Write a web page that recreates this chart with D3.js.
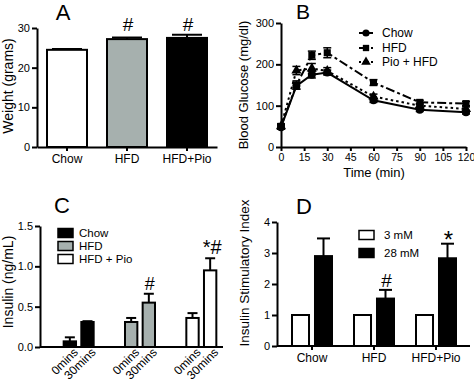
<!DOCTYPE html>
<html><head><meta charset="utf-8">
<script src="https://cdn.jsdelivr.net/npm/d3@7"></script>
<style>body{margin:0;background:#fff}svg{display:block}text{font-family:"Liberation Sans",Arial,sans-serif;fill:#000}</style>
</head><body>
<svg id="c" width="474" height="383"></svg>
<script>
// Panel A data
const aCats = ["Chow","HFD","HFD+Pio"];
const aVals = [24.5, 27.2, 27.5];
const aErr = [0.2, 0.4, 0.8];
const aColors = ["#ffffff","#a6b0ae","#000000"];
const aTicks = [0,10,20,30];
// Panel B data
const bTimes = [0,10,20,30,60,90,120];
const bChow = [48,148,175,180,113,90,84];
const bHFD = [50,150,222,228,156,108,105];
const bPio = [50,185,190,184,122,100,92];
const bChowErr = [5,8,8,6,5,4,4];
const bHFDErr = [6,10,10,12,7,5,5];
const bPioErr = [5,10,12,8,6,5,5];
const bSeries = ["Chow","HFD","Pio + HFD"];
const bXTicks = [0,15,30,45,60,75,90,105,120];
const bYTicks = [0,100,200,300];
// Panel C data
const cGroups = ["Chow","HFD","HFD + Pio"];
const cTimes = ["0mins","30mins"];
const c0 = [0.07,0.31,0.36];
const c30 = [0.31,0.55,0.95];
const c0Err = [0.05,0.05,0.06];
const c30Err = [0.01,0.11,0.15];
const cColors = ["#000000","#a6b0ae","#ffffff"];
const cYTicks = [0,0.5,1.0,1.5];
// Panel D data
const dCats = ["Chow","HFD","HFD+Pio"];
const dConds = ["3 mM","28 mM"];
const d3mM = [1,1,1];
const d28mM = [2.9,1.53,2.83];
const d28Err = [0.57,0.28,0.47];
const dYTicks = [0,1,2,3,4];

const svg = d3.select("#c");
const SW = 2;

function yAxis(g, y, x0, ticks, fmt){
  const ax = g.append("g").attr("transform",`translate(${x0},0)`)
    .call(d3.axisLeft(y).tickValues(ticks).tickSize(5).tickFormat(fmt).tickSizeOuter(0));
  ax.select(".domain").attr("stroke-width",SW);
  ax.selectAll(".tick line").attr("stroke-width",SW);
  ax.selectAll(".tick text").attr("font-size",11).attr("dx",1);
  return ax;
}
function label(t,x,y,size){ svg.append("text").attr("x",x).attr("y",y).attr("font-size",size).attr("text-anchor","middle").text(t); }
function yTitle(t,x,y,size){ svg.append("text").attr("transform",`translate(${x},${y}) rotate(-90)`).attr("font-size",size).attr("text-anchor","middle").text(t); }
function errUp(g,x,y0,y1,w){
  g.append("line").attr("x1",x).attr("x2",x).attr("y1",y0).attr("y2",y1).attr("stroke","#000").attr("stroke-width",SW);
  g.append("line").attr("x1",x-w/2).attr("x2",x+w/2).attr("y1",y1).attr("y2",y1).attr("stroke","#000").attr("stroke-width",SW);
}

// ---------- Panel A ----------
{
  const g = svg.append("g");
  const x = d3.scaleBand().domain(aCats).range([37,217]).paddingInner(1/3).paddingOuter(1/6);
  const y = d3.scaleLinear().domain([0,30]).range([147,28]);
  aCats.forEach((c,i)=>{
    errUp(g, x(c)+x.bandwidth()/2, y(aVals[i]), y(aVals[i]+aErr[i]), 30);
    g.append("rect").attr("x",x(c)).attr("width",x.bandwidth()).attr("y",y(aVals[i])).attr("height",y(0)-y(aVals[i]))
      .attr("fill",aColors[i]).attr("stroke","#000").attr("stroke-width",SW);
  });
  yAxis(g,y,37,aTicks,d3.format("d"));
  const xa = g.append("g").attr("transform","translate(0,147)").call(d3.axisBottom(x).tickSize(4).tickSizeOuter(0));
  xa.select(".domain").attr("stroke-width",SW);
  xa.selectAll(".tick line").attr("stroke-width",SW);
  xa.selectAll(".tick text").attr("font-size",12).attr("dy","0.75em");
  ["","#","#"].forEach((s,i)=>{ if(s) label(s, x(aCats[i])+x.bandwidth()/2+1, 31, 19); });
  label("A",63,20,22);
  yTitle("Weight (grams)",13,86,14);
}

// ---------- Panel B ----------
{
  const g = svg.append("g");
  const x = d3.scaleLinear().domain([0,120]).range([281,466]);
  const y = d3.scaleLinear().domain([0,300]).range([147,23]);
  const series = [
    {name:bSeries[0], v:bChow, e:bChowErr, dash:null, m:"circle"},
    {name:bSeries[1], v:bHFD, e:bHFDErr, dash:"9,3,3,3", m:"square"},
    {name:bSeries[2], v:bPio, e:bPioErr, dash:"2.5,3", m:"triangle"}
  ];
  const sym = {circle:d3.symbolCircle, square:d3.symbolSquare, triangle:d3.symbolTriangle};
  const line = d3.line().x((d,i)=>x(bTimes[i])).y(d=>y(d));
  series.forEach(s=>{
    g.append("path").attr("d",line(s.v)).attr("fill","none").attr("stroke","#000").attr("stroke-width",2)
      .attr("stroke-dasharray",s.dash);
    s.v.forEach((v,i)=>{
      const cx = x(bTimes[i]);
      g.append("line").attr("x1",cx).attr("x2",cx).attr("y1",y(v-s.e[i])).attr("y2",y(v+s.e[i])).attr("stroke","#000").attr("stroke-width",1.5);
      [v-s.e[i],v+s.e[i]].forEach(w=>g.append("line").attr("x1",cx-4).attr("x2",cx+4).attr("y1",y(w)).attr("y2",y(w)).attr("stroke","#000").attr("stroke-width",1.5));
      g.append("path").attr("d",d3.symbol(sym[s.m], s.m==="triangle"?45:50)()).attr("transform",`translate(${cx},${y(v)})`).attr("fill","#000");
    });
  });
  yAxis(g,y,281,bYTicks,d3.format("d"));
  const xa = g.append("g").attr("transform","translate(0,147)").call(d3.axisBottom(x).tickValues(bXTicks).tickSize(4).tickSizeOuter(0));
  xa.select(".domain").attr("stroke-width",SW);
  xa.selectAll(".tick line").attr("stroke-width",SW);
  xa.selectAll(".tick text").attr("font-size",10.5);
  // legend
  const ly = [33,48,62];
  series.forEach((s,i)=>{
    g.append("line").attr("x1",359).attr("x2",373).attr("y1",ly[i]).attr("y2",ly[i]).attr("stroke","#000").attr("stroke-width",2).attr("stroke-dasharray",s.dash?(i===1?"4,2":"2,2"):null);
    g.append("path").attr("d",d3.symbol(sym[s.m], 40)()).attr("transform",`translate(366,${ly[i]})`).attr("fill","#000");
    g.append("text").attr("x",382).attr("y",ly[i]+4).attr("font-size",12).text(s.name);
  });
  label("B",303,19,21);
  yTitle("Blood Glucose (mg/dl)",248,85,13);
  label("Time (min)",374,177,13);
}

// ---------- Panel C ----------
{
  const g = svg.append("g");
  const x0 = d3.scaleBand().domain(cGroups).range([48,232]);
  const x1 = d3.scaleBand().domain(cTimes).range([0,30]).paddingInner(0.3);
  const y = d3.scaleLinear().domain([0,1.5]).range([347,226]);
  const vals = [c0,c30], errs=[c0Err,c30Err];
  cGroups.forEach((gr,i)=>{
    const gx = x0(gr)+x0.bandwidth()/2-15;
    cTimes.forEach((t,j)=>{
      const bx = gx + x1(t);
      const v = vals[j][i];
      errUp(g, bx+x1.bandwidth()/2, y(v), y(v+errs[j][i]), 10);
      g.append("rect").attr("x",bx).attr("width",x1.bandwidth()).attr("y",y(v)).attr("height",y(0)-y(v))
        .attr("fill",cColors[i]).attr("stroke","#000").attr("stroke-width",SW);
      g.append("text").attr("transform",`translate(${bx+x1.bandwidth()/2+3},${347}) rotate(-45)`)
        .attr("text-anchor","end").attr("font-size",12).attr("dy","0.7em").text(t);
    });
  });
  yAxis(g,y,40,cYTicks,d3.format(".1f"));
  g.append("line").attr("x1",40).attr("x2",223).attr("y1",347).attr("y2",347).attr("stroke","#000").attr("stroke-width",SW);
  const ly=[233,246,259];
  cGroups.forEach((c,i)=>{
    g.append("rect").attr("x",58).attr("y",ly[i]-4.5).attr("width",15).attr("height",9).attr("fill",cColors[i]).attr("stroke","#000").attr("stroke-width",1.5);
    g.append("text").attr("x",79).attr("y",ly[i]+4).attr("font-size",11.5).text(c);
  });
  const hx = x0("HFD")+x0.bandwidth()/2-15+x1("30mins")+x1.bandwidth()/2;
  label("#",hx+1,290,18);
  const px = x0("HFD + Pio")+x0.bandwidth()/2-15+x1("30mins")+x1.bandwidth()/2;
  label("*#",px+2,254,20);
  label("C",62,213,22);
  yTitle("Insulin (ng/mL)",13,282,14);
}

// ---------- Panel D ----------
{
  const g = svg.append("g");
  const x0 = d3.scaleBand().domain(dCats).range([281,467]);
  const x1 = d3.scaleBand().domain(dConds).range([0,40]).paddingInner(0.26);
  const y = d3.scaleLinear().domain([0,4]).range([346,222]);
  const vals=[d3mM,d28mM], errs=[[0,0,0],d28Err], cols=["#ffffff","#000000"];
  dCats.forEach((c,i)=>{
    const gx = x0(c)+x0.bandwidth()/2-20;
    dConds.forEach((k,j)=>{
      const bx = gx+x1(k); const v = vals[j][i];
      if(errs[j][i]>0) errUp(g,bx+x1.bandwidth()/2,y(v),y(v+errs[j][i]),13);
      g.append("rect").attr("x",bx).attr("width",x1.bandwidth()).attr("y",y(v)).attr("height",y(0)-y(v))
        .attr("fill",cols[j]).attr("stroke","#000").attr("stroke-width",SW);
    });
  });
  yAxis(g,y,277,dYTicks,d3.format("d"));
  const xa = g.append("g").attr("transform","translate(0,346)").call(d3.axisBottom(x0).tickSize(4).tickSizeOuter(0));
  xa.select(".domain").attr("stroke-width",SW).attr("d","M277,0H470");
  xa.selectAll(".tick line").attr("stroke-width",SW);
  xa.selectAll(".tick text").attr("font-size",12).attr("dy","0.75em");
  const ly=[235,253];
  dConds.forEach((k,i)=>{
    g.append("rect").attr("x",359).attr("y",ly[i]-4.5).attr("width",15).attr("height",9).attr("fill",cols[i]).attr("stroke","#000").attr("stroke-width",1.5);
    g.append("text").attr("x",384).attr("y",ly[i]+4).attr("font-size",11.5).text(k);
  });
  const hx = x0("HFD")+x0.bandwidth()/2-20+x1("28 mM")+x1.bandwidth()/2;
  label("#",hx+1,287,19);
  const px = x0("HFD+Pio")+x0.bandwidth()/2-20+x1("28 mM")+x1.bandwidth()/2;
  label("*",px+1,248,24);
  label("D",304,214,22);
  yTitle("Insulin Stimulatory Index",249,273,13.5);
}
</script>
</body></html>
